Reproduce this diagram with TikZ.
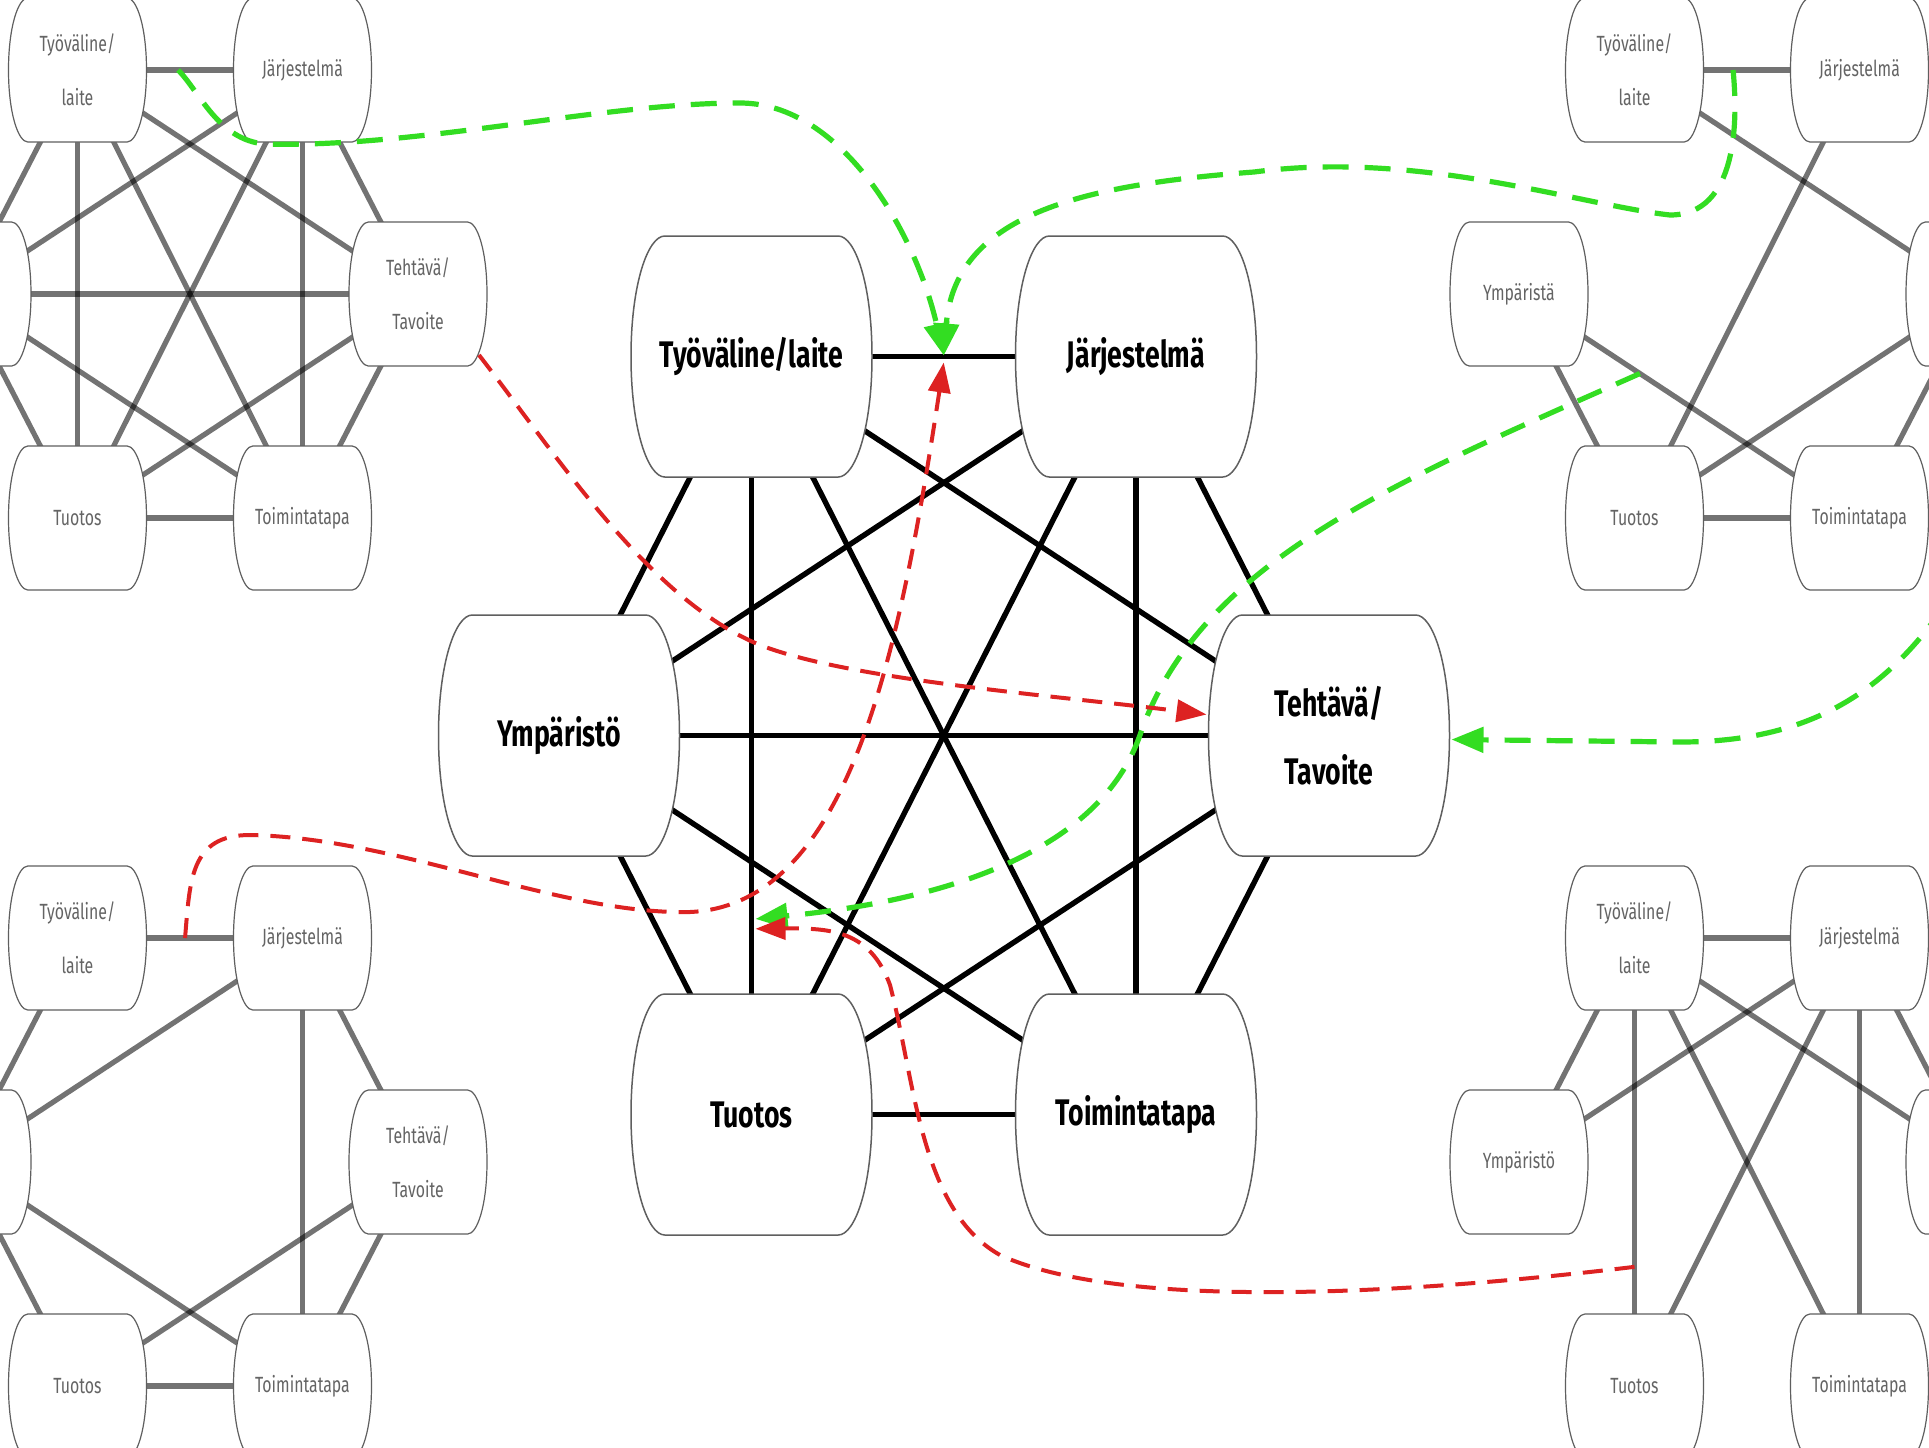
\documentclass[tikz,border=0pt]{standalone}
\usepackage{fontspec}
\newfontfamily\cfont[FakeStretch=0.72]{Fira Sans}
\usetikzlibrary{arrows.meta,calc}
\pgfdeclarelayer{edges}
\pgfdeclarelayer{shapes}
\pgfsetlayers{edges,shapes,main}
\definecolor{dgreen}{RGB}{51,221,34}
\definecolor{dred}{RGB}{221,34,34}
\definecolor{outl}{RGB}{95,95,95}
\definecolor{ptext}{RGB}{100,100,100}
\tikzset{
 cnode/.style={rectangle, inner sep=0pt, outer sep=0pt, minimum width=120.5pt, minimum height=120.5pt, align=center, font=\cfont\bfseries\fontsize{18.5}{34}\selectfont, text=black},
 pnode/.style={rectangle, inner sep=0pt, outer sep=0pt, minimum width=69pt, minimum height=72pt, align=center, font=\cfont\fontsize{11}{27}\selectfont, text=ptext},
 cedge/.style={line width=2.7pt, black},
 pedge/.style={line width=2.6pt, black, draw opacity=0.55},
 cshape/.style={fill=white, draw=outl, line width=0.75pt},
 pshape/.style={fill=white, draw=outl, line width=0.6pt},
 garrow/.style={dgreen, line width=2.6pt, dash pattern=on 13pt off 8pt, -{Triangle[length=16pt,width=12.5pt]}},
 rarrow/.style={dred, line width=2pt, dash pattern=on 10pt off 6pt, -{Triangle[length=15pt,width=11pt]}},
}
\newcommand\barrelpath[2]{%
 \path[#2] ($(#1.north west)!0.14!(#1.north east)$) -- ($(#1.north west)!0.86!(#1.north east)$)
 .. controls ($(#1.north west)!0.93!(#1.north east)$) and ($(#1.east)!0.6!(#1.north east)$) .. (#1.east)
 .. controls ($(#1.east)!0.6!(#1.south east)$) and ($(#1.south west)!0.93!(#1.south east)$) .. ($(#1.south west)!0.86!(#1.south east)$)
 -- ($(#1.south west)!0.14!(#1.south east)$)
 .. controls ($(#1.south west)!0.07!(#1.south east)$) and ($(#1.west)!0.6!(#1.south west)$) .. (#1.west)
 .. controls ($(#1.west)!0.6!(#1.north west)$) and ($(#1.north west)!0.07!(#1.north east)$) .. cycle;}
% #1 prefix, #2 cx, #3 cy, #4 left text, #5 right text, #6 edges
\newcommand\pgraph[6]{%
 \node[pnode] (#1T) at ({#2-112.5},{#3-224}) {Työväline/\\laite};
 \node[pnode] (#1J) at ({#2+112.5},{#3-224}) {Järjestelmä};
 \node[pnode] (#1Y) at ({#2-228},{#3}) {#4};
 \node[pnode] (#1E) at ({#2+228},{#3}) {#5};
 \node[pnode] (#1U) at ({#2-112.5},{#3+224}) {Tuotos};
 \node[pnode] (#1O) at ({#2+112.5},{#3+224}) {Toimintatapa};
 \begin{pgfonlayer}{shapes}
 \foreach \n in {T,J,Y,E,U,O} {\barrelpath{#1\n}{pshape}}
 \end{pgfonlayer}
 \begin{pgfonlayer}{edges}
 \foreach \u/\v in {#6} {\draw[pedge] (#1\u.center) -- (#1\v.center);}
 \end{pgfonlayer}
}
\begin{document}
\begin{tikzpicture}[x=0.5pt,y=-0.5pt]
\useasboundingbox (0,0) rectangle (1929,1447);
\begin{pgfonlayer}{edges}
\fill[white] (0,0) rectangle (1929,1447);
\end{pgfonlayer}
% peripheral graphs (nodes lying beyond the edge show no text)
\pgraph{a}{190}{294}{}{Tehtävä/\\Tavoite}{T/J,T/Y,T/U,T/O,T/E,J/Y,J/U,J/O,J/E,Y/E,Y/O,Y/U,E/U,E/O,U/O}
\pgraph{b}{1747}{294}{Ympäristä}{}{T/J,T/E,J/U,Y/O,Y/U,E/U,E/O,U/O}
\pgraph{c}{190}{1162}{}{Tehtävä/\\Tavoite}{T/J,T/Y,J/Y,J/O,J/E,Y/O,Y/U,E/U,E/O,U/O}
\pgraph{d}{1747}{1162}{Ympäristö}{}{T/J,T/Y,T/U,T/O,T/E,J/Y,J/U,J/O,J/E}
% central graph
\node[cnode] (mT) at (751.5,356.5) {Työväline/laite};
\node[cnode] (mJ) at (1136,356.5) {Järjestelmä};
\node[cnode] (mY) at (559,735.5) {Ympäristö};
\node[cnode] (mE) at (1329,735.5) {Tehtävä/\\Tavoite};
\node[cnode] (mU) at (751.5,1114.5) {Tuotos};
\node[cnode] (mO) at (1136,1114.5) {Toimintatapa};
\begin{pgfonlayer}{shapes}
\foreach \n in {T,J,Y,E,U,O} {\barrelpath{m\n}{cshape}}
\end{pgfonlayer}
\begin{pgfonlayer}{edges}
\foreach \u/\v in {T/J,T/Y,T/U,T/O,T/E,J/Y,J/U,J/O,J/E,Y/E,Y/O,Y/U,E/U,E/O,U/O}
 {\draw[cedge] (m\u.center) -- (m\v.center);}
\end{pgfonlayer}
% arrow end points
\coordinate (g1s) at ($(aT.center)!0.447!(aJ.center)$);
\coordinate (g2s) at ($(bT.center)!0.438!(bJ.center)$);
\coordinate (g3s) at ($(bY.center)!0.355!(bO.center)$);
\coordinate (g4s) at (1945,605);
\coordinate (gtip) at ($(mT.center)!0.5!(mJ.center)+(0,-1)$);
\coordinate (rtip) at ($(mT.center)!0.5!(mJ.center)+(0,6)$);
\coordinate (g3t) at ($(mT.center)!0.742!(mU.center)+(4,0)$);
\coordinate (r2t) at ($(mT.center)!0.755!(mU.center)+(4,0)$);
\coordinate (g4t) at ($(mE.east)+(2,4)$);
\coordinate (r1s) at ($(aE.center)+(61,61)$);
\coordinate (r1t) at ($(mE.west)+(-2,-21)$);
\coordinate (r2s) at ($(dT.center)!0.734!(dU.center)$);
\coordinate (r3s) at ($(cT.center)!0.478!(cJ.center)$);
% green arrows
\draw[garrow] (g1s) .. controls (200,92) and (218,140) .. (265,144)
 .. controls (420,148) and (600,103) .. (740,103)
 .. controls (840,103) and (915,230) .. (gtip);
\draw[garrow] (g2s) .. controls (1738,120) and (1738,215) .. (1670,215)
 .. controls (1580,205) and (1420,150) .. (1254,172)
 .. controls (1080,185) and (955,215) .. (gtip);
\draw[garrow] (g3s) .. controls (1400,480) and (1200,560) .. (1140,735)
 .. controls (1100,850) and (950,900) .. (g3t);
\draw[garrow] (g4s) .. controls (1880,700) and (1800,742) .. (1680,742) -- (g4t);
% red arrows
\draw[rarrow] (r1s) .. controls (560,460) and (650,600) .. (760,645)
 .. controls (850,680) and (1050,695) .. (r1t);
\draw[rarrow] (r2s) .. controls (1400,1295) and (1120,1310) .. (1000,1255)
 .. controls (920,1210) and (915,1080) .. (890,985)
 .. controls (870,930) and (830,928) .. (r2t);
\draw[rarrow] (r3s) .. controls (190,880) and (190,835) .. (250,835)
 .. controls (400,838) and (560,915) .. (690,912)
 .. controls (850,905) and (900,650) .. (rtip);
\end{tikzpicture}
\end{document}
